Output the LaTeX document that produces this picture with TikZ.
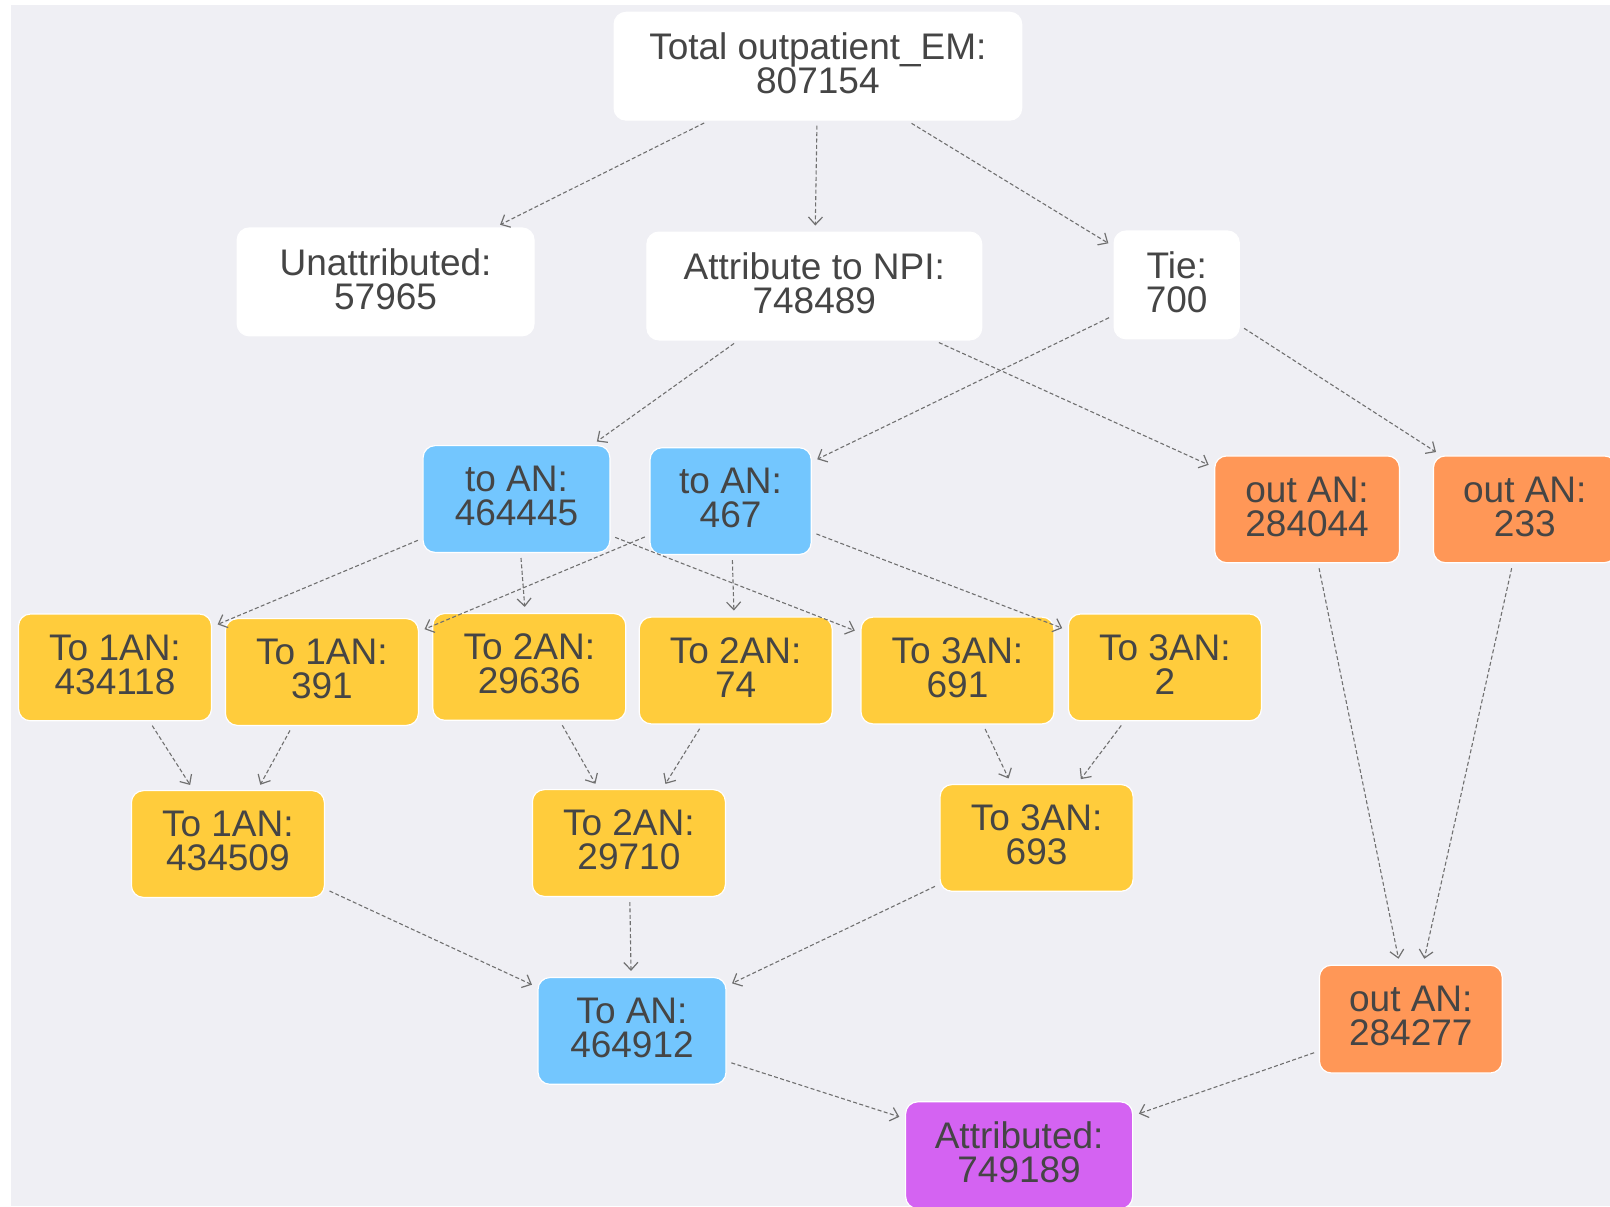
\documentclass[tikz,border=0pt]{standalone}
\usepackage{fontspec}
\setmainfont{Liberation Sans}
\usetikzlibrary{arrows.meta}
\definecolor{bg}{HTML}{EFEFF4}
\definecolor{txt}{HTML}{454545}
\definecolor{bluef}{HTML}{73C6FE}
\definecolor{orangef}{HTML}{FF9757}
\definecolor{yellowf}{HTML}{FFCC3C}
\definecolor{purplef}{HTML}{D463F2}
\definecolor{edgec}{HTML}{707070}
\begin{document}
\begin{tikzpicture}[x=0.5pt,y=-0.5pt,
 box/.style={rectangle, rounded corners=6pt, draw=white, line width=0.6pt, align=center, text=txt, font=\fontsize{18.5}{17}\selectfont, inner sep=0pt, text depth=3pt, minimum height=53.4pt},
 wbox/.style={box, fill=white, minimum height=53.9pt},
 bbox/.style={box, fill=bluef},
 obox/.style={box, fill=orangef},
 ybox/.style={box, fill=yellowf, minimum width=96.5pt},
 pbox/.style={box, fill=purplef},
 flow/.style={draw=edgec, line width=0.55pt, dash pattern=on 2pt off 1.2pt, -{Straight Barb[length=3.8pt,width=7pt,line width=0.6pt]}, shorten <=2.5pt, shorten >=3pt}]
\useasboundingbox (0,0) rectangle (1610,1206);
\fill[bg] (11,5) rectangle (1610,1206);

\node[wbox, minimum width=203.8pt] (total) at (817.9,66.2) {Total outpatient\_EM:\\807154};
\node[wbox, minimum width=148.4pt] (unattr) at (385.6,281.9) {Unattributed:\\57965};
\node[wbox, minimum width=167.4pt] (attr) at (814.3,286.0) {Attribute to NPI:\\748489};
\node[wbox, minimum width=62.6pt] (tie) at (1176.7,284.9) {Tie:\\700};
\node[bbox, minimum width=93.4pt] (toa) at (516.5,499.0) {to AN:\\464445};
\node[bbox, minimum width=80.6pt] (tob) at (730.6,501.1) {to AN:\\467};
\node[obox, minimum width=92.4pt] (outa) at (1307.1,509.3) {out AN:\\284044};
\node[obox, minimum width=91.4pt] (outb) at (1524.8,509.3) {out AN:\\233};
\node[ybox] (oneA) at (115.0,667.4) {To 1AN:\\434118};
\node[ybox] (oneB) at (321.9,672.0) {To 1AN:\\391};
\node[ybox] (twoA) at (529.3,666.9) {To 2AN:\\29636};
\node[ybox] (twoB) at (735.7,670.5) {To 2AN:\\74};
\node[ybox] (threeA) at (957.5,670.5) {To 3AN:\\691};
\node[ybox] (threeB) at (1164.9,667.4) {To 3AN:\\2};
\node[ybox] (oneS) at (227.9,844.0) {To 1AN:\\434509};
\node[ybox] (twoS) at (628.9,843.0) {To 2AN:\\29710};
\node[ybox] (threeS) at (1036.6,837.9) {To 3AN:\\693};
\node[bbox, minimum width=94pt] (toS) at (632.0,1030.9) {To AN:\\464912};
\node[obox, minimum width=91.4pt, minimum height=53.9pt] (outS) at (1410.8,1019.1) {out AN:\\284277};
\node[pbox, minimum width=113.5pt] (attrib) at (1019.1,1155.2) {Attributed:\\749189};

\draw[flow] (total) -- (unattr);
\draw[flow] (total) -- (attr);
\draw[flow] (total) -- (tie);
\draw[flow] (attr) -- (toa);
\draw[flow] (attr) -- (outa);
\draw[flow] (tie) -- (tob);
\draw[flow] (tie) -- (outb);
\draw[flow] (toa) -- (oneA);
\draw[flow] (toa) -- (twoA);
\draw[flow] (toa) -- (threeA);
\draw[flow] (tob) -- (oneB);
\draw[flow] (tob) -- (twoB);
\draw[flow] (tob) -- (threeB);
\draw[flow] (oneA) -- (oneS);
\draw[flow] (oneB) -- (oneS);
\draw[flow] (twoA) -- (twoS);
\draw[flow] (twoB) -- (twoS);
\draw[flow] (threeA) -- (threeS);
\draw[flow] (threeB) -- (threeS);
\draw[flow] (oneS) -- (toS);
\draw[flow] (twoS) -- (toS);
\draw[flow] (threeS) -- (toS);
\draw[flow] (outa) -- (outS);
\draw[flow] (outb) -- (outS);
\draw[flow] (toS) -- (attrib);
\draw[flow] (outS) -- (attrib);
\end{tikzpicture}
\end{document}
